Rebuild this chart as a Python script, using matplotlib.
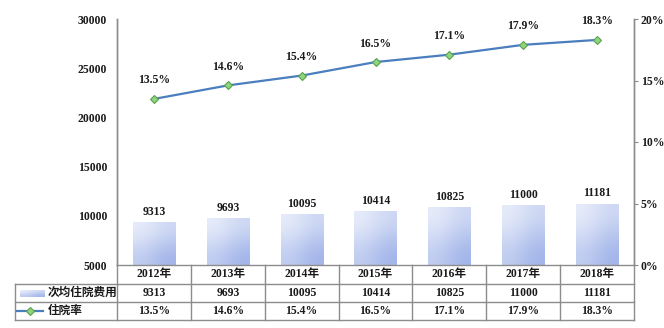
#!/usr/bin/env python3
"""Balken (次均住院费用) plus Linie (住院率) mit Datentabelle darunter."""

import matplotlib

matplotlib.use("Agg")
import matplotlib.pyplot as plt
import numpy as np
from matplotlib.colors import LinearSegmentedColormap
from matplotlib.lines import Line2D
from matplotlib.transforms import blended_transform_factory

plt.rcParams["font.family"] = ["Liberation Serif", "Noto Sans CJK SC"]
plt.rcParams["axes.unicode_minus"] = False

years = ["2012年", "2013年", "2014年", "2015年", "2016年", "2017年", "2018年"]
cost = [9313, 9693, 10095, 10414, 10825, 11000, 11181]
rate = [13.5, 14.6, 15.4, 16.5, 17.1, 17.9, 18.3]
cost_name = "次均住院费用"
rate_name = "住院率"

GRID = "#8c8c8c"
LINE = "#4a7ebf"
MARKER_FACE = "#8fd47e"
MARKER_EDGE = "#5aa34f"
TXT = "#1a1a1a"
FS = 8.4

W, H = 664, 328
fig = plt.figure(figsize=(W / 100, H / 100), dpi=100)
left, right, top, bottom = 117, 634, 19, 265
ax = fig.add_axes([left / W, 1 - bottom / H, (right - left) / W, (bottom - top) / H])
ax2 = ax.twinx()

x = np.arange(len(years))
ax2.set_ylim(0, 20)

# Balken mit Farbverlauf
bars = ax.bar(x, cost, width=0.57, color="none", edgecolor="none", zorder=2)
grad = np.array([[0.0, 0.35], [0.55, 1.0]])
cmap = LinearSegmentedColormap.from_list("bar", ["#e8edfa", "#a0b3e9"])
for b in bars:
    y0 = max(b.get_y(), 5000)
    ax.imshow(
        grad,
        cmap=cmap,
        extent=[b.get_x(), b.get_x() + b.get_width(), y0, b.get_height()],
        aspect="auto",
        interpolation="bicubic",
        zorder=2,
    )
ax.set_xlim(-0.5, len(years) - 0.5)
ax.set_ylim(5000, 30000)
for xi, v in zip(x, cost):
    ax.annotate(f"{v}", (xi, v), xytext=(0, 3.5), textcoords="offset points",
                ha="center", va="bottom", fontsize=FS, color=TXT, fontweight="bold")

# Linie
ax2.plot(x, rate, color=LINE, lw=1.6, marker="D", ms=4.2,
         mfc=MARKER_FACE, mec=MARKER_EDGE, mew=0.8, zorder=3)
for xi, v in zip(x, rate):
    ax2.annotate(f"{v}%", (xi, v), xytext=(0, 9), textcoords="offset points",
                 ha="center", va="bottom", fontsize=FS, color=TXT, fontweight="bold")

# Achsen
ax.set_yticks(range(5000, 30001, 5000))
ax.tick_params(axis="y", length=0, pad=7, labelsize=FS, colors=TXT)
ax2.set_yticks(range(0, 21, 5))
ax2.set_yticklabels([f"{t}%" for t in range(0, 21, 5)])
ax2.tick_params(axis="y", length=3, width=0.8, color=GRID, pad=2, labelsize=FS, labelcolor=TXT)
for a in (ax, ax2):
    for lab in a.get_yticklabels():
        lab.set_fontweight("bold")
    a.spines["top"].set_visible(False)
    a.spines["bottom"].set_visible(False)
    a.spines["left"].set_color(GRID)
    a.spines["right"].set_color(GRID)
    a.spines["left"].set_linewidth(1.0)
    a.spines["right"].set_linewidth(1.0)
ax.set_xticks([])

# Datentabelle unter dem Diagramm
tr = blended_transform_factory(ax.transData, ax.transAxes)
ph = bottom - top
r1 = -(284 - bottom) / ph
r2 = -(302 - bottom) / ph
r3 = -(320 - bottom) / ph
cw = (right - left) / len(years)
xl = -0.5 - (left - 15) / cw
kw = dict(color=GRID, lw=1.0, clip_on=False, transform=tr)
ax.add_line(Line2D([-0.5, 6.5], [0, 0], **kw))
ax.add_line(Line2D([xl, 6.5], [r1, r1], **kw))
ax.add_line(Line2D([xl, 6.5], [r2, r2], **kw))
ax.add_line(Line2D([xl, 6.5], [r3, r3], **kw))
ax.add_line(Line2D([xl, xl], [r1, r3], **kw))
for xb in np.arange(-0.5, len(years), 1.0):
    ax.add_line(Line2D([xb, xb], [0, r3], **kw))

for xi, yr, c, r in zip(x, years, cost, rate):
    for yy, s in ((r1 / 2, yr), ((r1 + r2) / 2, f"{c}"), ((r2 + r3) / 2, f"{r}%")):
        ax.text(xi, yy, s, transform=tr, ha="center", va="center", fontsize=FS,
                color=TXT, fontweight="bold", clip_on=False)

# Legende in der Tabelle
sx0 = xl + 5 / cw
sx1 = xl + 30 / cw
sh = 7 / ph
ym2 = (r1 + r2) / 2
ax.imshow(grad, cmap=cmap, extent=[sx0, sx1, ym2 - sh / 2, ym2 + sh / 2],
          aspect="auto", interpolation="bicubic", transform=tr, clip_on=False)
ax.set_xlim(-0.5, len(years) - 0.5)
ax.set_ylim(5000, 30000)
ax.text(xl + 33 / cw, ym2, cost_name, transform=tr, ha="left", va="center",
        fontsize=FS, color=TXT, fontweight="bold", clip_on=False)
ym3 = (r2 + r3) / 2
ax.add_line(Line2D([xl + 2 / cw, xl + 28 / cw], [ym3, ym3], color=LINE, lw=1.6,
                   clip_on=False, transform=tr))
ax.add_line(Line2D([xl + 15 / cw], [ym3], marker="D", ms=4.2, mfc=MARKER_FACE,
                   mec=MARKER_EDGE, mew=0.8, clip_on=False, transform=tr))
ax.text(xl + 33 / cw, ym3, rate_name, transform=tr, ha="left", va="center",
        fontsize=FS, color=TXT, fontweight="bold", clip_on=False)

ax.set_zorder(ax2.get_zorder() + 1)
ax.patch.set_visible(False)

fig.savefig("out.png", dpi=100)
